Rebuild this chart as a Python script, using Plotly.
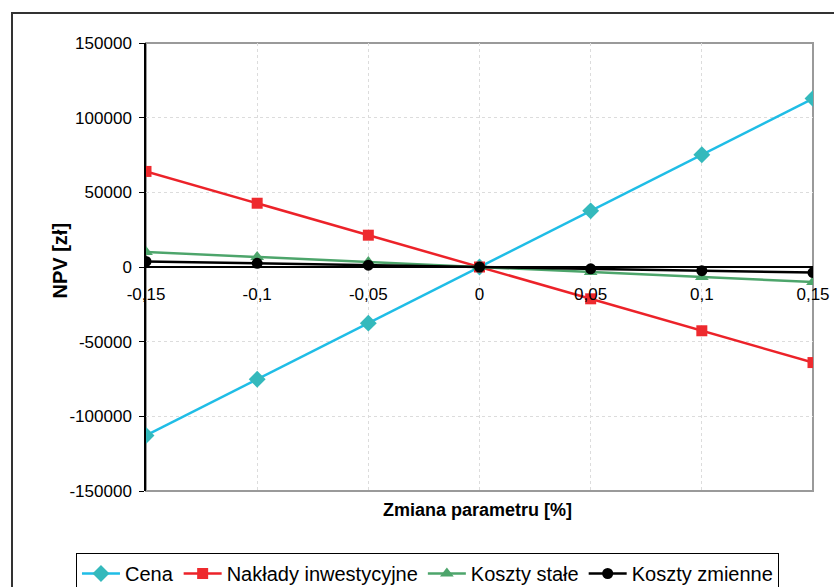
import plotly.graph_objects as go

# Parameter change (fraction) on the x axis
zmiana = [-0.15, -0.1, -0.05, 0, 0.05, 0.1, 0.15]
zmiana_labels = ["-0,15", "-0,1", "-0,05", "0", "0,05", "0,1", "0,15"]

# NPV [zł] for each sensitivity series
cena = [-112800, -75200, -37600, 0, 37600, 75200, 112800]
naklady = [64000, 42700, 21300, 0, -21300, -42700, -64000]
koszty_stale = [10100, 6700, 3400, 0, -3400, -6700, -10100]
koszty_zmienne = [3700, 2500, 1200, 0, -1200, -2500, -3700]

y_ticks = [-150000, -100000, -50000, 0, 50000, 100000, 150000]
y_labels = [str(v) for v in y_ticks]

FONT = "Liberation Sans, Arial, sans-serif"

fig = go.Figure()

series = [
    ("Cena", cena, "#1FBDE6", "#34B9BC", "diamond", 13),
    ("Nakłady inwestycyjne", naklady, "#EC2229", "#EE2A2E", "square", 11),
    ("Koszty stałe", koszty_stale, "#4DA56B", "#4DA56B", "triangle-up", 12),
    ("Koszty zmienne", koszty_zmienne, "#000000", "#000000", "circle", 11),
]
for name, vals, lc, mc, sym, size in series:
    fig.add_trace(go.Scatter(
        x=zmiana, y=vals, name=name, mode="lines+markers",
        line=dict(color=lc, width=2.5),
        marker=dict(symbol=sym, size=size, color=mc, line=dict(width=0)),
    ))

fig.update_layout(
    width=834, height=587,
    margin=dict(l=146, r=21, t=43, b=96, autoexpand=False),
    paper_bgcolor="white", plot_bgcolor="white",
    font=dict(family=FONT, size=17, color="black"),
    showlegend=True,
    legend=dict(
        orientation="h", x=-0.105, y=-0.1384, xanchor="left", yanchor="top",
        font=dict(family=FONT, size=20, color="black"),
        bordercolor="black", borderwidth=1, bgcolor="white",
        itemwidth=38, tracegroupgap=0,
    ),
    xaxis=dict(
        range=[-0.15, 0.15], tickvals=zmiana, ticktext=zmiana_labels,
        anchor="free", position=0.5, showline=True, linecolor="black", linewidth=1.5,
        ticks="", ticklabelstandoff=12,
        showgrid=True, gridcolor="#dcdcdc", griddash="dot", gridwidth=1,
        zeroline=False, tickfont=dict(size=17),
    ),
    yaxis=dict(
        range=[-150000, 150000], tickvals=y_ticks, ticktext=y_labels,
        showline=True, linecolor="black", linewidth=1.5,
        ticks="outside", ticklen=5, tickcolor="black", ticklabelstandoff=4,
        showgrid=True, gridcolor="#dcdcdc", griddash="dot", gridwidth=1,
        zeroline=False, tickfont=dict(size=17),
    ),
    shapes=[
        # plot-area frame
        dict(type="rect", xref="paper", yref="paper", x0=0, x1=1, y0=0, y1=1,
             line=dict(color="#9a9a9a", width=2), layer="below"),
        # outer chart frame
        dict(type="rect", xref="paper", yref="paper", x0=-0.2009, x1=1.2,
             y0=-0.4, y1=1.067, line=dict(color="#333333", width=2)),
    ],
    annotations=[
        dict(text="<b>NPV [zł]</b>", xref="paper", yref="paper",
             x=-0.1477, y=0.5156, textangle=-90, showarrow=False,
             font=dict(family=FONT, size=20)),
        dict(text="<b>Zmiana parametru [%]</b>", xref="paper", yref="paper",
             x=0.497, y=-0.0692, showarrow=False,
             font=dict(family=FONT, size=18)),
    ],
)

fig.write_html("out.html")
